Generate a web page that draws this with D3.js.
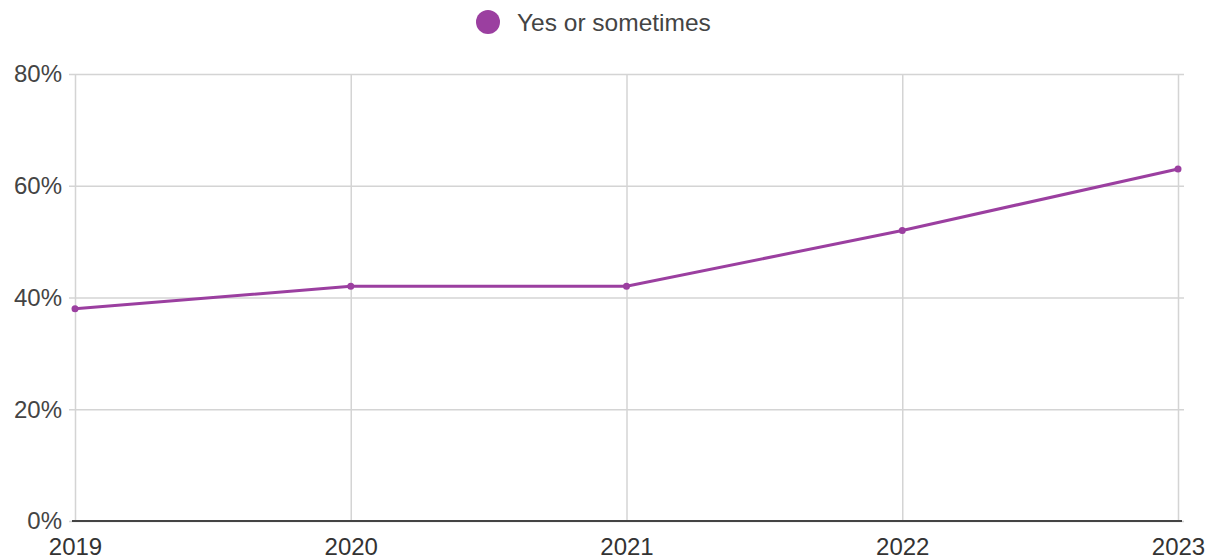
<!DOCTYPE html>
<html>
<head>
<meta charset="utf-8">
<script src="https://cdn.jsdelivr.net/npm/d3@7"></script>
<style>
  html, body { margin: 0; padding: 0; background: #fff; }
  svg { display: block; font-family: "Liberation Sans", Arial, sans-serif; }
</style>
</head>
<body>
<svg id="chart" width="1214" height="559"></svg>
<script>
const years = ["2019", "2020", "2021", "2022", "2023"];
const yesOrSometimes = [38, 42, 42, 52, 63];
const yTicks = [0, 20, 40, 60, 80];
const seriesName = "Yes or sometimes";
const seriesColor = "#9b3fa0";

const svg = d3.select("#chart");
const margin = { left: 75, right: 1178, top: 74, bottom: 521 };

const x = d3.scalePoint().domain(years).range([margin.left, margin.right]);
const y = d3.scaleLinear().domain([0, 80]).range([margin.bottom, margin.top]);

// horizontal gridlines with y labels
const yAxis = d3.axisLeft(y).tickValues(yTicks)
  .tickSize(-(margin.right - margin.left + 12))
  .tickPadding(8)
  .tickFormat(d => d + "%");
const gy = svg.append("g").attr("transform", `translate(${margin.left - 6},0)`).call(yAxis);
gy.select(".domain").remove();
gy.selectAll(".tick line").attr("stroke", "#d4d4d4").attr("stroke-width", 1.5);
gy.selectAll(".tick text").attr("fill", "#444").style("font-size", "24px")
  .attr("x", -7).attr("dy", "0.33em");

// vertical gridlines with x labels
const xAxis = d3.axisBottom(x).tickSize(-(margin.bottom - margin.top)).tickPadding(17);
const gx = svg.append("g").attr("transform", `translate(0,${margin.bottom})`).call(xAxis);
gx.select(".domain").remove();
gx.selectAll(".tick line").attr("stroke", "#d4d4d4").attr("stroke-width", 1.5);
gx.selectAll(".tick text").attr("fill", "#333").style("font-size", "24px");

// baseline
svg.append("line")
  .attr("x1", margin.left - 3).attr("x2", margin.right + 4)
  .attr("y1", y(0)).attr("y2", y(0))
  .attr("stroke", "#444").attr("stroke-width", 2);

// series line
const data = years.map((yr, i) => ({ year: yr, value: yesOrSometimes[i] }));
svg.append("path")
  .datum(data)
  .attr("fill", "none")
  .attr("stroke", seriesColor)
  .attr("stroke-width", 3)
  .attr("d", d3.line().x(d => x(d.year)).y(d => y(d.value)));

svg.append("g").selectAll("circle").data(data).join("circle")
  .attr("cx", d => x(d.year)).attr("cy", d => y(d.value))
  .attr("r", 3.5).attr("fill", seriesColor);

// legend
const legend = svg.append("g").attr("transform", "translate(488,22)");
legend.append("circle").attr("r", 12).attr("fill", seriesColor);
legend.append("text").attr("x", 29).attr("y", 9)
  .attr("fill", "#444").style("font-size", "24.5px").text(seriesName);
</script>
</body>
</html>
